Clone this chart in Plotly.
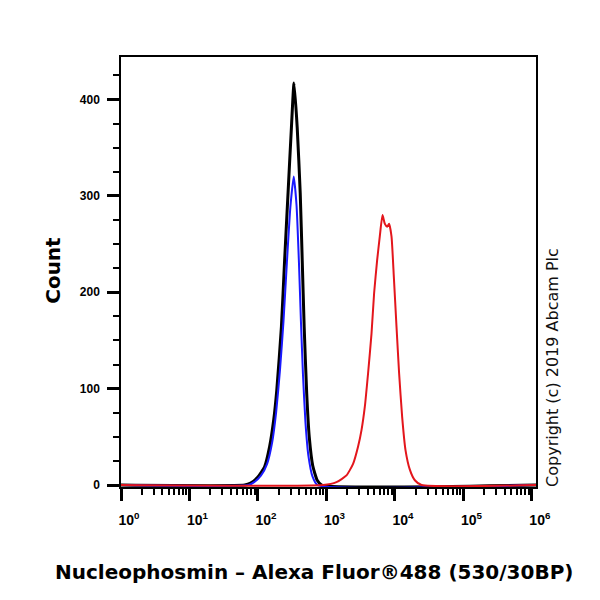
import plotly.graph_objects as go

# ---- data (fluorescence intensity, count) ----
black_x = [1, 64, 78, 99, 125, 148, 170, 188, 220, 245, 275, 308, 336, 374, 414, 443, 473,
           515, 561, 631, 733, 853, 1150000]
black_y = [0, 0, 2, 8, 19, 40, 68, 98, 164, 233, 303, 371, 417, 371, 303, 233, 164,
           95, 50, 20, 5, 0, 0]

blue_x = [1, 73, 88, 111, 136, 161, 184, 210, 236, 264, 297, 333, 366, 397, 424, 454,
          494, 546, 625, 740, 1150000]
blue_y = [0, 0, 3, 10, 22, 44, 75, 120, 170, 230, 288, 320, 290, 230, 170, 115,
          65, 30, 9, 0, 0]

red_x = [1, 892, 1400, 1960, 2449, 2898, 3250, 3631, 4055, 4550, 4966, 5495, 6012, 6587,
         7118, 7690, 8222, 8913, 9640, 10550, 11510, 12740, 14290, 16510, 19540, 24490, 1150000]
red_y = [0, 0, 3, 10, 22, 40, 57, 81, 116, 157, 199, 233, 258, 280,
         271, 268, 271, 258, 216, 164, 116, 71, 36, 16, 5, 0, 0]

x_tickvals = [1, 10, 100, 1000, 10000, 100000, 1000000]
x_ticktext = ["10<sup>0</sup>", "10<sup>1</sup>", "10<sup>2</sup>", "10<sup>3</sup>",
              "10<sup>4</sup>", "10<sup>5</sup>", "10<sup>6</sup>"]
y_tickvals = [0, 100, 200, 300, 400]
y_ticktext = ["0", "100", "200", "300", "400"]

x_title = "Nucleophosmin – Alexa Fluor®488 (530/30BP)"
y_title = "Count"
copyright_text = "Copyright (c) 2019 Abcam Plc"

ARIAL = "Liberation Sans, Arial, sans-serif"
WIDE = "DejaVu Sans, Verdana, sans-serif"

fig = go.Figure()
fig.add_trace(go.Scatter(x=black_x, y=black_y, mode="lines",
                         line=dict(color="#000000", width=3, shape="spline", smoothing=0.5)))
fig.add_trace(go.Scatter(x=blue_x, y=blue_y, mode="lines",
                         line=dict(color="#1a1aff", width=2, shape="spline", smoothing=0.5)))
fig.add_trace(go.Scatter(x=red_x, y=red_y, mode="lines",
                         line=dict(color="#e3161c", width=2, shape="spline", smoothing=0.5)))

fig.update_layout(
    width=600, height=600,
    margin=dict(l=121, r=64, t=57, b=113),
    paper_bgcolor="white", plot_bgcolor="white",
    showlegend=False,
    font=dict(family=ARIAL, color="black"),
)

fig.update_xaxes(
    type="log", range=[0, 6.06],
    showgrid=False, zeroline=False,
    showline=True, linecolor="black", linewidth=1.5, mirror=True,
    ticks="outside", ticklen=12, tickwidth=2.5, tickcolor="black",
    tickvals=x_tickvals, ticktext=["<b>%s</b>" % t for t in x_ticktext],
    tickfont=dict(size=14, family=ARIAL, color="black"),
    ticklabelshift=8, ticklabelstandoff=7,
    minor=dict(ticks="outside", ticklen=6, tickwidth=1.5, tickcolor="black", dtick="D1", showgrid=False),
)
fig.update_yaxes(
    range=[-2, 444],
    showgrid=False, zeroline=False,
    showline=True, linecolor="black", linewidth=1.5, mirror=True,
    ticks="outside", ticklen=12, tickwidth=2.5, tickcolor="black",
    tickvals=y_tickvals, ticktext=["<b>%s</b>" % t for t in y_ticktext],
    tickfont=dict(size=12, family=ARIAL, color="black"),
    ticklabelstandoff=5,
    minor=dict(ticks="outside", ticklen=6, tickwidth=1.5, tickcolor="black", dtick=25, showgrid=False),
)

fig.add_annotation(text="<b>%s</b>" % x_title, xref="paper", yref="paper",
                   x=0.465, y=-0.198, xanchor="center", yanchor="middle", showarrow=False,
                   font=dict(size=20, family=WIDE, color="black"))
fig.add_annotation(text="<b>%s</b>" % y_title, xref="paper", yref="paper",
                   x=-0.164, y=0.505, xanchor="center", yanchor="middle", showarrow=False,
                   textangle=-90, font=dict(size=20, family=WIDE, color="black"))
fig.add_annotation(text=copyright_text, xref="paper", yref="paper",
                   x=1.041, y=0.277, xanchor="center", yanchor="middle", showarrow=False,
                   textangle=-90, font=dict(size=16, family=WIDE, color="#111111"))

fig.write_html("out.html")
